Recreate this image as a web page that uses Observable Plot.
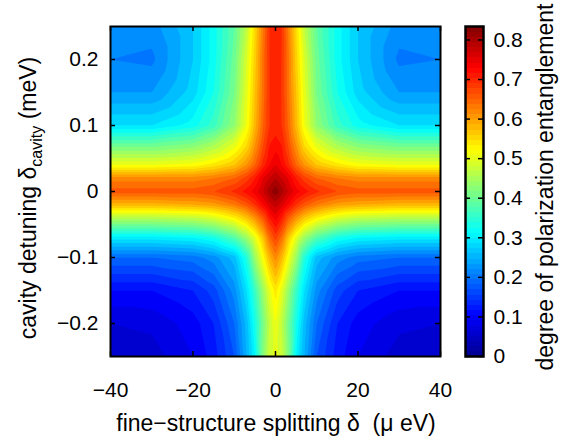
<!DOCTYPE html>
<html><head><meta charset="utf-8">
<script src="https://cdn.jsdelivr.net/npm/d3@7"></script>
<script src="https://cdn.jsdelivr.net/npm/@observablehq/plot@0.6"></script>
<style>
body{margin:0;background:#fff;}
#chart{position:relative;width:563px;height:439px;}
#chart svg{position:absolute;left:0;top:0;}
</style></head><body><div id="chart"></div>
<script>
// fine-structure splitting δ (μeV) — grid columns
const splitting = [-40, -30, -20, -15, -10, -7, -5, -3, -1.5, 0, 1.5, 3, 5, 7, 10, 15, 20, 30, 40];
// cavity detuning δ_cavity (meV) — grid rows
const detuning = [0.25, 0.2, 0.15, 0.1, 0.07, 0.04, 0.02, 0, -0.02, -0.04, -0.07, -0.1, -0.15, -0.2, -0.25];
// degree of polarization entanglement, one row per detuning value
const entanglement = [
  [0.235,0.23,0.28,0.33,0.40,0.48,0.56,0.64,0.70,0.72,0.70,0.64,0.56,0.48,0.40,0.33,0.28,0.23,0.235],
  [0.22,0.215,0.28,0.33,0.41,0.50,0.57,0.65,0.70,0.72,0.70,0.65,0.57,0.50,0.41,0.33,0.28,0.215,0.22],
  [0.24,0.24,0.29,0.34,0.42,0.51,0.58,0.65,0.70,0.71,0.70,0.65,0.58,0.51,0.42,0.34,0.29,0.24,0.24],
  [0.30,0.30,0.33,0.37,0.44,0.52,0.59,0.66,0.70,0.71,0.70,0.66,0.59,0.52,0.44,0.37,0.33,0.30,0.30],
  [0.41,0.41,0.43,0.46,0.51,0.56,0.62,0.68,0.72,0.73,0.72,0.68,0.62,0.56,0.51,0.46,0.43,0.41,0.41],
  [0.52,0.52,0.53,0.55,0.58,0.62,0.66,0.71,0.74,0.76,0.74,0.71,0.66,0.62,0.58,0.55,0.53,0.52,0.52],
  [0.63,0.63,0.63,0.64,0.66,0.69,0.72,0.76,0.78,0.80,0.78,0.76,0.72,0.69,0.66,0.64,0.63,0.63,0.63],
  [0.67,0.67,0.67,0.68,0.705,0.73,0.75,0.78,0.81,0.835,0.81,0.78,0.75,0.73,0.705,0.68,0.67,0.67,0.67],
  [0.59,0.59,0.60,0.61,0.64,0.67,0.70,0.74,0.77,0.79,0.77,0.74,0.70,0.67,0.64,0.61,0.60,0.59,0.59],
  [0.47,0.47,0.48,0.50,0.54,0.58,0.62,0.67,0.72,0.75,0.72,0.67,0.62,0.58,0.54,0.50,0.48,0.47,0.47],
  [0.31,0.31,0.32,0.34,0.39,0.45,0.51,0.58,0.65,0.69,0.65,0.58,0.51,0.45,0.39,0.34,0.32,0.31,0.31],
  [0.20,0.20,0.21,0.23,0.27,0.35,0.45,0.53,0.59,0.63,0.59,0.53,0.45,0.35,0.27,0.23,0.21,0.20,0.20],
  [0.12,0.12,0.14,0.17,0.23,0.30,0.37,0.45,0.51,0.55,0.51,0.45,0.37,0.30,0.23,0.17,0.14,0.12,0.12],
  [0.08,0.085,0.11,0.14,0.20,0.27,0.34,0.42,0.48,0.52,0.48,0.42,0.34,0.27,0.20,0.14,0.11,0.085,0.08],
  [0.06,0.07,0.10,0.13,0.18,0.26,0.32,0.43,0.49,0.51,0.49,0.43,0.32,0.26,0.18,0.13,0.10,0.07,0.06]
];
const xTicks = [-40, -20, 0, 20, 40];
const yTicks = [-0.2, -0.1, 0, 0.1, 0.2];
const yTickLabels = ["−0.2", "−0.1", "0", "0.1", "0.2"];
const cbTicks = [0, 0.1, 0.2, 0.3, 0.4, 0.5, 0.6, 0.7, 0.8];
const cbTickLabels = ["0", "0.1", "0.2", "0.3", "0.4", "0.5", "0.6", "0.7", "0.8"];
const cMax = 0.834;
const jetStops = [0, 0.125, 0.375, 0.625, 0.875, 1];
const jetColors = ["#00008f", "#0000ff", "#00ffff", "#ffff00", "#ff0000", "#800000"];

const jet = d3.scaleLinear().domain(jetStops).range(jetColors).interpolate(d3.interpolateRgb).clamp(true);
const colorScale = {type: "linear", domain: [0, cMax], interpolate: t => jet(t)};

const points = [];
detuning.forEach((y, i) => splitting.forEach((x, j) => points.push({x, y, v: entanglement[i][j]})));

const font = "'Liberation Sans', Arial, Helvetica, sans-serif";

const main = Plot.plot({
  width: 563, height: 439,
  marginLeft: 110, marginRight: 123, marginTop: 26, marginBottom: 83,
  style: {fontFamily: font, fontSize: "21px", background: "white", color: "black"},
  x: {domain: [-40, 40], ticks: xTicks, tickSize: 0, tickPadding: 26, label: null},
  y: {domain: [-0.25, 0.25], ticks: yTicks, tickFormat: d => yTickLabels[yTicks.indexOf(d)], tickSize: 0, tickPadding: 12, label: null},
  color: colorScale,
  marks: [
    Plot.contour(points, {x: "x", y: "y", fill: "v", interpolate: "barycentric", thresholds: 45, pixelSize: 1, stroke: "none"}),
    Plot.tickX(xTicks, {x: d => d, insetTop: 325, stroke: "black", strokeWidth: 1.5}),
    Plot.tickX(xTicks, {x: d => d, insetBottom: 325, stroke: "black", strokeWidth: 1.5}),
    Plot.tickY(yTicks, {y: d => d, insetRight: 325, stroke: "black", strokeWidth: 1.5}),
    Plot.tickY(yTicks, {y: d => d, insetLeft: 325, stroke: "black", strokeWidth: 1.5}),
    Plot.frame({stroke: "black", strokeWidth: 2})
  ]
});

const cb = Plot.plot({
  width: 563, height: 439,
  marginLeft: 465, marginRight: 80, marginTop: 26, marginBottom: 83,
  style: {fontFamily: font, fontSize: "21px", background: "transparent", color: "black"},
  x: {domain: [0, 1], axis: null},
  y: {domain: [0, cMax], axis: "right", ticks: cbTicks, tickFormat: d => cbTickLabels[cbTicks.indexOf(d)], tickSize: 0, tickPadding: 10, label: null},
  color: colorScale,
  marks: [
    Plot.raster({x1: 0, x2: 1, y1: 0, y2: cMax, width: 1, height: 64, fill: (x, y) => y, imageRendering: "pixelated"}),
    Plot.tickY(cbTicks, {y: d => d, insetRight: 13, stroke: "black", strokeWidth: 1.5}),
    Plot.tickY(cbTicks, {y: d => d, insetLeft: 13, stroke: "black", strokeWidth: 1.5}),
    Plot.frame({stroke: "black", strokeWidth: 2.5})
  ]
});

const chart = document.getElementById("chart");
chart.appendChild(main);
chart.appendChild(cb);

const svg = d3.select(cb);
svg.append("text")
  .attr("transform", "translate(276,431)")
  .attr("text-anchor", "middle")
  .attr("font-size", "23px")
  .style("white-space", "pre")
  .text("fine−structure splitting δ  (μ eV)");

const yl = svg.append("text")
  .attr("transform", "translate(36,198) rotate(-90)")
  .attr("text-anchor", "middle")
  .attr("font-size", "23px")
  .style("white-space", "pre");
yl.append("tspan").text("cavity detuning δ");
yl.append("tspan").attr("font-size", "16px").attr("dy", "6").text("cavity");
yl.append("tspan").attr("dy", "-6").text(" (meV)");

svg.append("text")
  .attr("transform", "translate(553,187) rotate(-90)")
  .attr("text-anchor", "middle")
  .attr("font-size", "23px")
  .text("degree of polarization entanglement");
</script>
</body></html>
